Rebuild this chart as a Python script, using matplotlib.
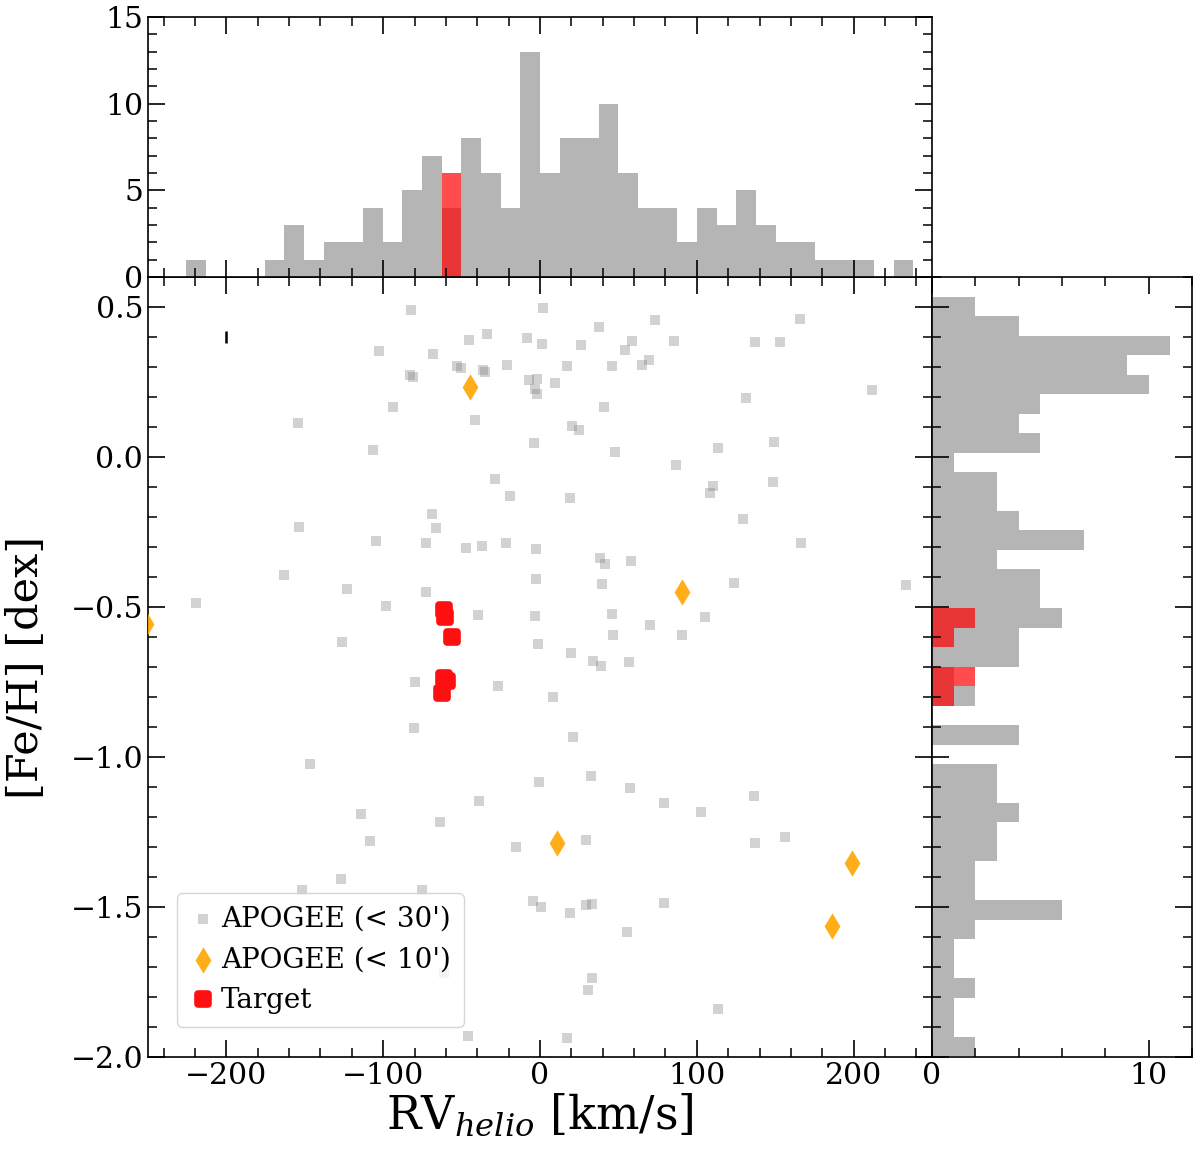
import numpy as np
import matplotlib
matplotlib.use("Agg")
import matplotlib.pyplot as plt
from matplotlib.markers import MarkerStyle
from matplotlib.ticker import MultipleLocator

plt.rcParams['font.family'] = ['DejaVu Serif']
plt.rcParams['mathtext.fontset'] = 'dejavuserif'
plt.rcParams['axes.linewidth'] = 1.2
plt.rcParams['axes.unicode_minus'] = True

# ---------------- data ----------------
# APOGEE stars within 30 arcmin: radial velocity [km/s], [Fe/H] [dex]
apogee30_rv = [-102.7, -93.5, -154.4, -106.5, -153.4, -104.8, -163.1, -123.1, -219.2, -98.2, -126.3,
               -82.4, 1.7, 73.3, 37.5, -33.9, -45.2, -8.3, 1.5, 26.4, 58.4, 54.5, -68.2, 69.2, 65.2,
               45.6, 17.4, -21.1, -53.2, -50.5, -36.6, -35.1, -83.1, -81.0, -6.8, -1.7, -3.2, -2.1,
               9.6, 41.1, -41.5, 20.7, 24.9, -3.8, 48.1, -28.8, -19.0, 19.4, -69.0, -66.3, -73.0,
               -47.3, -37.3, -21.9, -2.8, 38.1, 41.3, 58.1, -2.3, 39.6, -72.8, -39.6, -3.4, 46.0,
               70.1, 46.6, -1.5, 20.0, 33.7, 38.8, 56.9,
               165.7, 85.6, 137.4, 152.9, 211.7, 131.2, 113.7, 149.1, 86.7, 110.1, 108.2, 148.5,
               129.7, 166.3, 123.8, 233.4, 105.4, 90.5,
               -147.0, -114.2, -108.6, -127.2, -151.9,
               -79.9, -26.8, 8.5, -80.3, 21.1, -0.9, 32.6, 57.5, 78.8, -38.8, -63.5, -15.5, 29.2,
               -75.2, -4.3, 0.6, 19.2, 29.2, 33.0, 79.4, 55.6, 33.2, 30.9, -61.1, -46.0, 17.5,
               102.7, 136.7, 137.2, 156.1, 113.7]
apogee30_feh = [0.354, 0.166, 0.113, 0.022, -0.233, -0.280, -0.394, -0.441, -0.487, -0.496, -0.618,
                0.489, 0.497, 0.456, 0.433, 0.409, 0.389, 0.397, 0.376, 0.372, 0.387, 0.358, 0.344,
                0.324, 0.306, 0.303, 0.304, 0.306, 0.302, 0.298, 0.289, 0.282, 0.274, 0.267, 0.256,
                0.261, 0.228, 0.209, 0.248, 0.166, 0.122, 0.102, 0.089, 0.047, 0.018, -0.074, -0.129,
                -0.138, -0.190, -0.236, -0.286, -0.303, -0.298, -0.287, -0.306, -0.337, -0.356,
                -0.346, -0.408, -0.424, -0.451, -0.528, -0.529, -0.523, -0.559, -0.593, -0.624,
                -0.654, -0.680, -0.696, -0.684,
                0.459, 0.388, 0.383, 0.384, 0.222, 0.198, 0.030, 0.049, -0.027, -0.098, -0.119,
                -0.082, -0.207, -0.286, -0.421, -0.426, -0.532, -0.593,
                -1.024, -1.190, -1.280, -1.407, -1.443,
                -0.751, -0.763, -0.801, -0.904, -0.932, -1.083, -1.062, -1.104, -1.154, -1.146,
                -1.217, -1.299, -1.277, -1.443, -1.479, -1.501, -1.519, -1.493, -1.490, -1.486,
                -1.584, -1.738, -1.777, -1.721, -1.930, -1.936,
                -1.184, -1.129, -1.286, -1.268, -1.839]

# APOGEE stars within 10 arcmin
apogee10_rv = [-251.0, -44.7, 90.7, 10.6, 198.7, 186.4]
apogee10_feh = [-0.558, 0.232, -0.451, -1.286, -1.354, -1.562]

# Targets
target_rv = [-61.3, -60.7, -56.0, -61.5, -59.5, -62.5]
target_feh = [-0.511, -0.533, -0.600, -0.735, -0.745, -0.785]

# typical uncertainty
err_rv, err_feh, err_feh_size = -200.0, 0.40, 0.02

# RV histogram (top)
rv_bin_start = -225.6
rv_bin_width = 12.53
rv_counts_apogee = [1, 0, 0, 0, 1, 3, 1, 2, 2, 4, 2, 5, 7, 4, 8, 6, 4, 13, 6, 8, 8, 10, 6, 4, 4,
                    2, 4, 3, 5, 3, 2, 2, 1, 1, 1, 0, 1]
rv_counts_target = [0] * 13 + [6] + [0] * 23

# [Fe/H] histogram (right), listed from the bottom bin (-2.0) upwards
feh_bin_start = -1.997
feh_bin_width = 0.0649
feh_counts_apogee = [2, 1, 1, 2, 1, 1, 2, 6, 2, 2, 3, 3, 4, 3, 3, 0, 4, 0, 2, 1, 4, 4, 6, 5, 5,
                     3, 7, 4, 3, 3, 1, 5, 4, 5, 10, 9, 11, 4, 2]
feh_counts_target = [0] * 18 + [1, 2, 0, 1, 2] + [0] * 16

# ---------------- figure ----------------
fig = plt.figure(figsize=(12, 11.55), dpi=100)
W, H = 1200.0, 1155.0
L, R_, T_top, T_main, B = 148, 932, 17, 277, 1057
RR = 1192
ax = fig.add_axes([L / W, (H - B) / H, (R_ - L) / W, (B - T_main) / H])
axt = fig.add_axes([L / W, (H - T_main) / H, (R_ - L) / W, (T_main - T_top) / H])
axr = fig.add_axes([R_ / W, (H - B) / H, (RR - R_) / W, (B - T_main) / H])

# scatter
ax.scatter(apogee30_rv, apogee30_feh, marker='s', s=58, color='gray', alpha=0.35,
           linewidths=0, label="APOGEE (< 30')", zorder=2)
ax.scatter(apogee10_rv, apogee10_feh, marker='d', s=180, color='orange', alpha=0.9,
           linewidths=0, label="APOGEE (< 10')", zorder=3)
ax.plot(target_rv, target_feh, linestyle='none',
        marker=MarkerStyle('s', joinstyle='round'), markersize=7.5,
        markeredgewidth=5.5, color='#ff1010', label='Target', zorder=4)
ax.errorbar([err_rv], [err_feh], yerr=[err_feh_size], fmt='none', ecolor='k',
            elinewidth=1.8, zorder=5)

ax.set_xlim(-250, 250)
ax.set_ylim(-2.0, 0.6)
ax.xaxis.set_major_locator(MultipleLocator(100))
ax.xaxis.set_minor_locator(MultipleLocator(20))
ax.yaxis.set_major_locator(MultipleLocator(0.5))
ax.yaxis.set_minor_locator(MultipleLocator(0.1))
ax.set_xlabel(r"RV$_{helio}$ [km/s]", fontsize=33, labelpad=2)
ax.set_ylabel("[Fe/H] [dex]", fontsize=31)
ax.yaxis.set_label_coords(-0.129, 0.5)

leg = ax.legend(loc='lower left', bbox_to_anchor=(0.0366, 0.0385), borderaxespad=0,
                fontsize=20, handlelength=1.0, handletextpad=0.15, labelspacing=0.5,
                borderpad=0.45, scatterpoints=1, frameon=True)

# top histogram
rv_edges = rv_bin_start + rv_bin_width * np.arange(len(rv_counts_apogee) + 1)
rv_centers = 0.5 * (rv_edges[:-1] + rv_edges[1:])
axt.hist(rv_centers, bins=rv_edges, weights=rv_counts_apogee, color='gray', alpha=0.58)
axt.hist(rv_centers, bins=rv_edges, weights=rv_counts_target, color='red', alpha=0.7)
axt.set_xlim(-250, 250)
axt.set_ylim(0, 15)
axt.xaxis.set_major_locator(MultipleLocator(100))
axt.xaxis.set_minor_locator(MultipleLocator(20))
axt.yaxis.set_major_locator(MultipleLocator(5))
axt.yaxis.set_minor_locator(MultipleLocator(1))
axt.tick_params(axis='x', which='both', labelbottom=False)

# right histogram
feh_edges = feh_bin_start + feh_bin_width * np.arange(len(feh_counts_apogee) + 1)
feh_centers = 0.5 * (feh_edges[:-1] + feh_edges[1:])
axr.hist(feh_centers, bins=feh_edges, weights=feh_counts_apogee, color='gray', alpha=0.58,
         orientation='horizontal')
axr.hist(feh_centers, bins=feh_edges, weights=feh_counts_target, color='red', alpha=0.7,
         orientation='horizontal')
axr.set_xlim(0, 12)
axr.set_ylim(-2.0, 0.6)
axr.xaxis.set_major_locator(MultipleLocator(10))
axr.xaxis.set_minor_locator(MultipleLocator(2))
axr.yaxis.set_major_locator(MultipleLocator(0.5))
axr.yaxis.set_minor_locator(MultipleLocator(0.1))
axr.tick_params(axis='y', which='both', labelleft=False)

for a in (ax, axt, axr):
    a.tick_params(which='both', direction='in', top=True, right=True, labelsize=21.5)
    a.tick_params(which='major', length=12, width=1.2)
    a.tick_params(which='minor', length=6.7, width=1.1)

fig.savefig('out.png', dpi=100)
